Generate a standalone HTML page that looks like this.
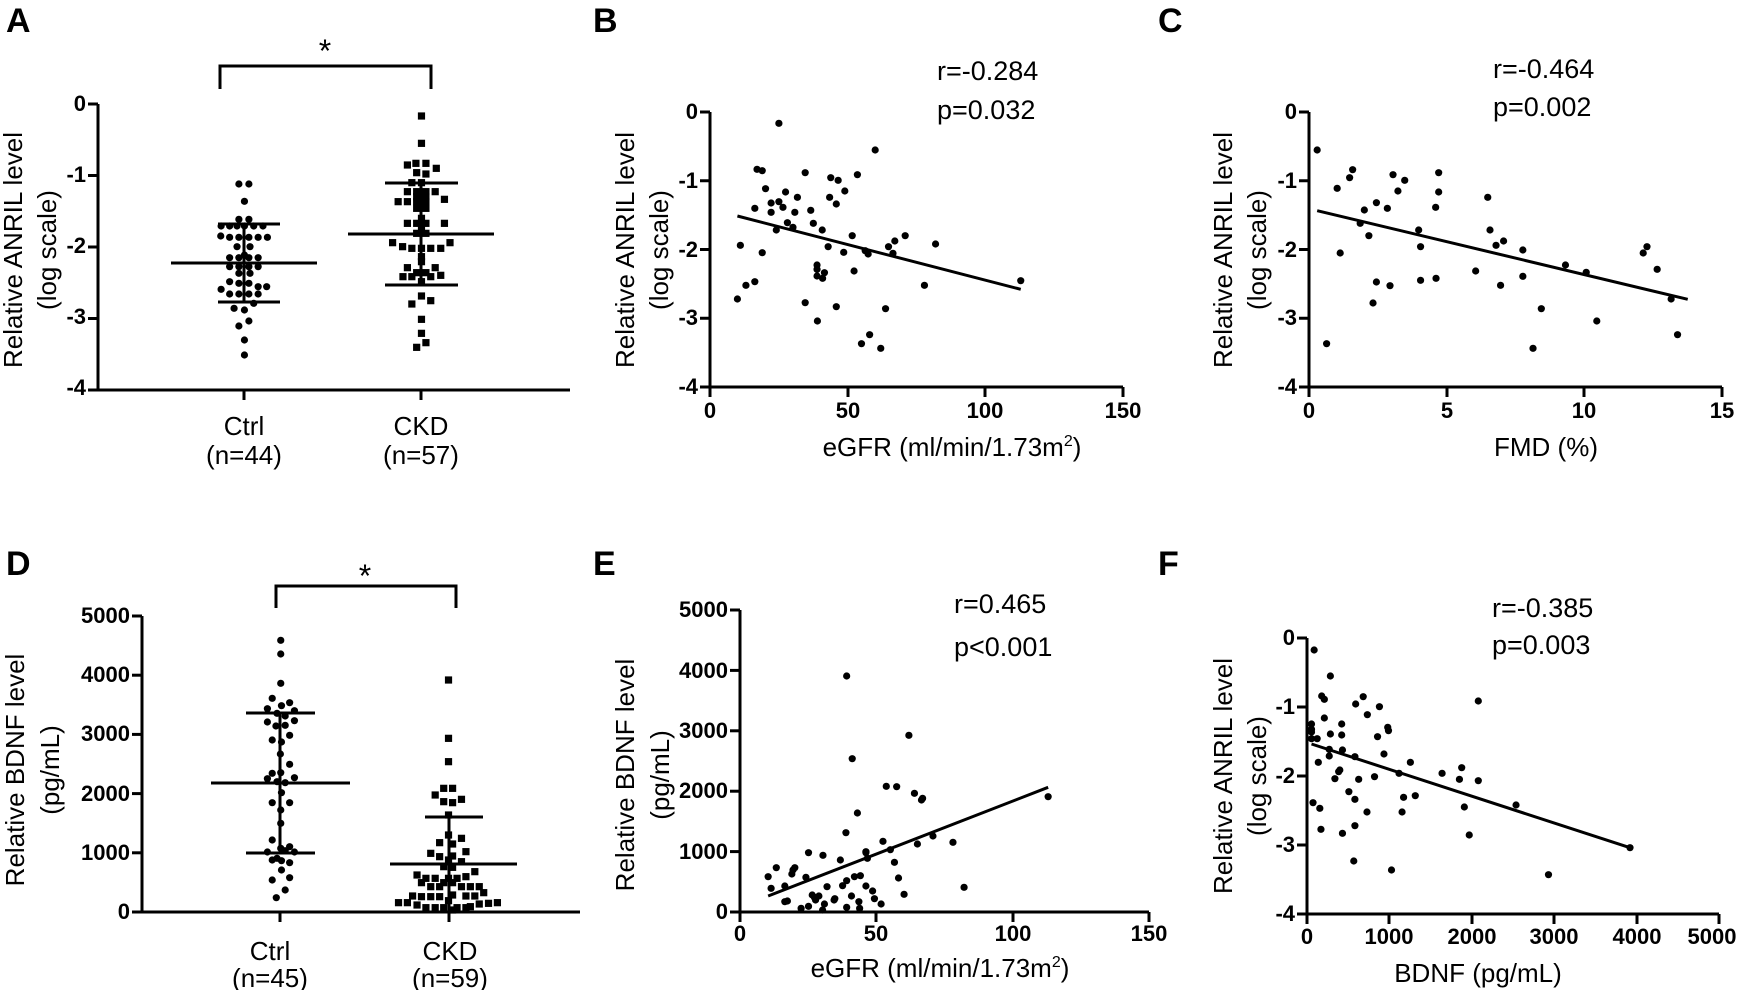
<!DOCTYPE html>
<html><head><meta charset="utf-8"><style>
html,body{margin:0;padding:0;background:#fff;}
svg{display:block;}
text{font-family:"Liberation Sans",Arial,sans-serif;fill:#000;}
.t{font-size:22px;font-weight:bold;}
.ti{font-size:26px;}
.r{font-size:27px;}
.L{font-size:34px;font-weight:bold;}
</style></head><body>
<svg id="s" width="1742" height="990" viewBox="0 0 1742 990" xmlns="http://www.w3.org/2000/svg">
<g stroke="#000" stroke-width="3" fill="none" id="lines"></g>
<g id="dots" fill="#000"></g>
<text class="L" x="6" y="32">A</text>
<text class="L" x="593" y="32">B</text>
<text class="L" x="1158" y="32">C</text>
<text class="L" x="6" y="575">D</text>
<text class="L" x="593" y="575">E</text>
<text class="L" x="1158" y="575">F</text>
<!-- A -->
<text class="ti" x="325" y="62" text-anchor="middle" style="font-size:32px">*</text>
<g class="t" text-anchor="end">
<text x="86" y="111">0</text><text x="86" y="182">-1</text><text x="86" y="253">-2</text><text x="86" y="324">-3</text><text x="86" y="395">-4</text>
</g>
<text class="ti" x="244" y="435" text-anchor="middle">Ctrl</text>
<text class="ti" x="244" y="464" text-anchor="middle">(n=44)</text>
<text class="ti" x="421" y="435" text-anchor="middle">CKD</text>
<text class="ti" x="421" y="464" text-anchor="middle">(n=57)</text>
<text class="ti" transform="translate(22,250) rotate(-90)" text-anchor="middle">Relative ANRIL level</text>
<text class="ti" transform="translate(56,250) rotate(-90)" text-anchor="middle">(log scale)</text>
<!-- B -->
<g class="t" text-anchor="end">
<text x="698" y="119">0</text><text x="698" y="188">-1</text><text x="698" y="257">-2</text><text x="698" y="325">-3</text><text x="698" y="394">-4</text>
</g>
<g class="t" text-anchor="middle">
<text x="710" y="418">0</text><text x="848" y="418">50</text><text x="985" y="418">100</text><text x="1123" y="418">150</text>
</g>
<text class="ti" x="952" y="456" text-anchor="middle">eGFR (ml/min/1.73m<tspan dy="-10" style="font-size:16px">2</tspan><tspan dy="10">)</tspan></text>
<text class="r" x="937" y="80">r=-0.284</text>
<text class="r" x="937" y="119">p=0.032</text>
<text class="ti" transform="translate(634,250) rotate(-90)" text-anchor="middle">Relative ANRIL level</text>
<text class="ti" transform="translate(668,250) rotate(-90)" text-anchor="middle">(log scale)</text>
<!-- C -->
<g class="t" text-anchor="end">
<text x="1297" y="119">0</text><text x="1297" y="188">-1</text><text x="1297" y="257">-2</text><text x="1297" y="325">-3</text><text x="1297" y="394">-4</text>
</g>
<g class="t" text-anchor="middle">
<text x="1309" y="418">0</text><text x="1447" y="418">5</text><text x="1584" y="418">10</text><text x="1722" y="418">15</text>
</g>
<text class="ti" x="1546" y="456" text-anchor="middle">FMD (%)</text>
<text class="r" x="1493" y="78">r=-0.464</text>
<text class="r" x="1493" y="116">p=0.002</text>
<text class="ti" transform="translate(1232,250) rotate(-90)" text-anchor="middle">Relative ANRIL level</text>
<text class="ti" transform="translate(1266,250) rotate(-90)" text-anchor="middle">(log scale)</text>
<!-- D -->
<text class="ti" x="365" y="587" text-anchor="middle" style="font-size:32px">*</text>
<g class="t" text-anchor="end">
<text x="130" y="623">5000</text><text x="130" y="682">4000</text><text x="130" y="741">3000</text><text x="130" y="801">2000</text><text x="130" y="860">1000</text><text x="130" y="919">0</text>
</g>
<text class="ti" x="270" y="960" text-anchor="middle">Ctrl</text>
<text class="ti" x="270" y="987" text-anchor="middle">(n=45)</text>
<text class="ti" x="450" y="960" text-anchor="middle">CKD</text>
<text class="ti" x="450" y="987" text-anchor="middle">(n=59)</text>
<text class="ti" transform="translate(24,770) rotate(-90)" text-anchor="middle">Relative BDNF level</text>
<text class="ti" transform="translate(59,770) rotate(-90)" text-anchor="middle">(pg/mL)</text>
<!-- E -->
<g class="t" text-anchor="end">
<text x="728" y="617">5000</text><text x="728" y="678">4000</text><text x="728" y="738">3000</text><text x="728" y="798">2000</text><text x="728" y="859">1000</text><text x="728" y="919">0</text>
</g>
<g class="t" text-anchor="middle">
<text x="740" y="941">0</text><text x="876" y="941">50</text><text x="1013" y="941">100</text><text x="1149" y="941">150</text>
</g>
<text class="ti" x="940" y="977" text-anchor="middle">eGFR (ml/min/1.73m<tspan dy="-10" style="font-size:16px">2</tspan><tspan dy="10">)</tspan></text>
<text class="r" x="954" y="613">r=0.465</text>
<text class="r" x="954" y="656">p&lt;0.001</text>
<text class="ti" transform="translate(634,775) rotate(-90)" text-anchor="middle">Relative BDNF level</text>
<text class="ti" transform="translate(669,775) rotate(-90)" text-anchor="middle">(pg/mL)</text>
<!-- F -->
<g class="t" text-anchor="end">
<text x="1295" y="645">0</text><text x="1295" y="714">-1</text><text x="1295" y="783">-2</text><text x="1295" y="852">-3</text><text x="1295" y="921">-4</text>
</g>
<g class="t" text-anchor="middle">
<text x="1307" y="944">0</text><text x="1389" y="944">1000</text><text x="1472" y="944">2000</text><text x="1554" y="944">3000</text><text x="1637" y="944">4000</text><text x="1712" y="944">5000</text>
</g>
<text class="ti" x="1478" y="982" text-anchor="middle">BDNF (pg/mL)</text>
<text class="r" x="1492" y="617">r=-0.385</text>
<text class="r" x="1492" y="654">p=0.003</text>
<text class="ti" transform="translate(1232,776) rotate(-90)" text-anchor="middle">Relative ANRIL level</text>
<text class="ti" transform="translate(1266,776) rotate(-90)" text-anchor="middle">(log scale)</text>
</svg>
<script>
var NS="http://www.w3.org/2000/svg";
var L=document.getElementById('lines'),D=document.getElementById('dots');
function ln(x1,y1,x2,y2,w){var e=document.createElementNS(NS,'line');e.setAttribute('x1',x1);e.setAttribute('y1',y1);e.setAttribute('x2',x2);e.setAttribute('y2',y2);if(w)e.setAttribute('stroke-width',w);L.appendChild(e);}
function pl(pts){var e=document.createElementNS(NS,'polyline');e.setAttribute('points',pts);L.appendChild(e);}
function dot(x,y){var e=document.createElementNS(NS,'circle');e.setAttribute('cx',x);e.setAttribute('cy',y);e.setAttribute('r',3.6);D.appendChild(e);}
function sq(x,y){var e=document.createElementNS(NS,'rect');e.setAttribute('x',x-3.6);e.setAttribute('y',y-3.6);e.setAttribute('width',7.2);e.setAttribute('height',7.2);D.appendChild(e);}
function pts(a,sx,sy,ox,oy,f){for(var i=0;i<a.length;i+=2)f(ox+a[i]/sx,oy+a[i+1]/sy);}
function yax(x,top,bot,n){ln(x,top,x,bot);for(var i=0;i<=n;i++){var y=top+(bot-top)*i/n;ln(x-10,y,x,y);}}
function xax(x0,x1,y,ticks){ln(x0,y,x1,y);ticks.forEach(function(t){ln(t,y,t,y+10);});}
// A
yax(98,104,390,4);xax(98,570,390,[244,421]);
pl("220,89 220,66 431,66 431,89");
ln(171,263,317,263);ln(218,224,280,224);ln(218,302,280,302);ln(244,224,244,302);
ln(348,234,494,234);ln(385,183,458,183);ln(385,285,458,285);ln(421,183,421,285);
pts([645,552,672,552,660,604,645,658,672,658,597,678,620,678,640,678,660,678,685,678,710,678,596,708,620,712,645,712,672,712,697,712,722,712,640,740,675,740,660,765,620,773,645,773,672,773,697,773,620,800,645,800,672,800,697,800,645,820,675,820,620,845,645,850,672,850,697,860,597,868,720,860,620,882,645,882,672,882,697,882,685,910,632,925,660,930,645,978,672,963,660,1020,660,1065],2.7,3,0,0,dot);
pts([1138,348,1138,430,1100,495,1123,490,1150,490,1178,505,1125,518,1150,522,1112,548,1138,548,1100,575,1125,575,1150,575,1175,575,1125,590,1150,590,1075,605,1100,605,1125,605,1150,605,1200,598,1125,625,1150,625,1138,655,1100,670,1125,670,1150,670,1200,670,1138,690,1125,700,1150,700,1060,728,1087,740,1112,745,1138,745,1163,745,1190,745,1215,728,1138,770,1138,785,1100,803,1125,818,1150,818,1175,803,1088,830,1112,830,1163,830,1190,826,1138,845,1138,888,1112,912,1163,902,1138,958,1138,1000,1150,1028,1125,1042],2.7,3,0,0,sq);
// B
yax(710,112,387,4);xax(710,1123,387,[710,848,985,1123]);
ln(580+425/2.7,648/3,580+1190/2.7,868/3);
pts([537,370,797,450,478,508,492,512,608,518,749,524,677,533,697,541,501,566,715,573,555,576,587,592,674,592,537,605,516,609,692,612,472,625,548,622,580,637,516,637,623,631,630,670,560,668,575,682,654,690,530,690,735,707,878,707,850,723,960,732,433,736,670,740,833,740,712,757,492,758,770,752,778,762,845,760,640,795,640,808,640,828,660,818,655,835,740,813,472,845,448,856,930,856,1190,842,425,897,608,908,692,920,825,926,641,963,782,1004,760,1031,812,1045],2.7,3,580,0,dot);
// C
yax(1309,112,387,4);xax(1309,1722,387,[1309,1447,1584,1722]);
ln(1150+443/2.65,632/3,1150+1425/2.65,898/3);
pts([443,450,468,1031,496,565,504,759,529,533,537,509,557,670,568,630,580,707,591,909,600,608,600,846,629,625,636,857,644,524,657,573,675,541,712,690,717,740,717,841,757,622,758,835,765,518,765,576,863,813,895,592,901,690,917,736,929,856,937,723,988,750,988,829,1015,1045,1037,926,1101,795,1156,817,1184,963,1307,759,1317,740,1344,808,1381,897,1398,1004],2.65,3,1150,0,dot);
// D
yax(142,616,912,5);xax(142,580,912,[280,449]);
pl("276,608 276,586 456,586 456,608");
ln(211,783,350,783);ln(246,713,315,713);ln(246,853,315,853);ln(280,713,280,853);
ln(390,864,517,864);ln(425,817,483,817);ln(449,817,449,912);
pts([758,481,758,522,758,610,735,655,760,677,782,668,722,686,748,700,795,692,770,708,722,726,745,738,770,736,795,722,735,780,760,786,782,766,757,822,782,853,735,880,758,878,722,896,748,905,795,893,770,908,760,938,735,968,782,968,758,990,758,1030,735,1080,782,1100,758,1105,770,1112,795,1116,722,1116,735,1140,760,1142,748,1135,782,1148,760,1170,735,1200,782,1193,770,1230,746,1253],2.7,3,0,480,dot);
pts([1211,600,1211,775,1211,845,1198,925,1222,925,1175,945,1198,965,1222,968,1246,958,1211,1005,1211,1065,1187,1088,1222,1092,1246,1075,1163,1120,1187,1130,1222,1128,1258,1115,1211,1140,1246,1145,1198,1160,1222,1162,1282,1175,1126,1185,1150,1195,1175,1195,1211,1195,1234,1195,1258,1190,1138,1208,1198,1208,1222,1208,1163,1220,1187,1220,1246,1220,1270,1220,1294,1220,1306,1238,1114,1248,1138,1250,1163,1250,1187,1250,1222,1245,1258,1248,1282,1248,1076,1268,1100,1268,1211,1262,1343,1268,1319,1270,1294,1272,1126,1275,1150,1283,1175,1283,1198,1283,1234,1283,1258,1283,1270,1280,1222,1290],2.7,3,0,480,sq);
// E
yax(740,610,912,5);xax(740,1149,912,[740,876,1013,1149]);
ln(580+508/2.7,480+1248/3,580+1264/2.7,480+922/3);
pts([508,1190,516,1225,530,1163,553,1218,553,1265,560,1263,572,1182,575,1170,580,1163,597,1285,610,1192,617,1279,617,1118,627,1245,633,1252,636,1260,645,1248,655,1290,656,1126,660,1272,667,1220,686,1260,688,1256,703,1140,709,1217,718,1058,720,1282,720,1202,720,588,733,1248,735,836,741,1190,749,999,753,1265,755,1285,757,1187,772,1218,772,1118,776,1135,790,1233,795,1256,813,1272,818,1084,827,919,838,1109,849,1147,855,920,860,1194,875,1243,888,766,903,940,911,1092,922,960,925,955,953,1068,1007,1087,1037,1222,1264,950,772,1115],2.7,3,580,480,dot);
// F
yax(1307,638,914,4);xax(1307,1719,914,[1307,1389,1472,1554,1637,1719]);
ln(1150+428/2.65,520+672/3,1150+1272/2.65,520+983/3);
pts([435,390,478,468,455,528,462,538,545,552,565,530,608,560,870,543,576,584,462,594,428,612,508,612,428,628,428,636,630,622,632,632,478,642,508,645,428,656,443,656,603,650,475,688,475,708,510,690,620,702,543,710,446,727,690,727,503,750,500,755,660,760,774,760,826,743,490,776,553,778,595,770,820,778,870,782,527,815,543,838,672,832,703,827,833,861,432,848,450,865,970,855,575,876,668,876,543,917,453,928,510,940,846,945,1272,983,540,1023,640,1050,1056,1064],2.65,3,1150,520,dot);
</script>
</body></html>
